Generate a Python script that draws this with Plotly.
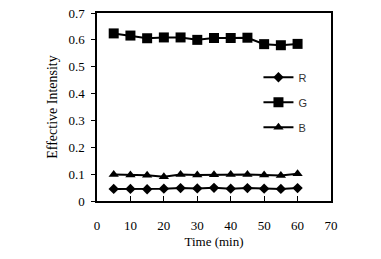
import plotly.graph_objects as go

time_min = [5, 10, 15, 20, 25, 30, 35, 40, 45, 50, 55, 60]
r_vals = [0.045, 0.045, 0.044, 0.046, 0.048, 0.047, 0.049, 0.046, 0.048, 0.046, 0.045, 0.048]
g_vals = [0.624, 0.616, 0.606, 0.609, 0.609, 0.600, 0.607, 0.607, 0.608, 0.584, 0.580, 0.585]
b_vals = [0.099, 0.097, 0.096, 0.090, 0.099, 0.097, 0.098, 0.099, 0.099, 0.097, 0.095, 0.101]
series_names = ["R", "G", "B"]
x_ticks = [0, 10, 20, 30, 40, 50, 60, 70]
y_ticks = [0, 0.1, 0.2, 0.3, 0.4, 0.5, 0.6, 0.7]
y_tick_text = ["0", "0.1", "0.2", "0.3", "0.4", "0.5", "0.6", "0.7"]

symbols = ["diamond", "square", "triangle-up"]
sizes = [8, 10, 9]

fig = go.Figure()
for i, (name, vals) in enumerate(zip(series_names, [r_vals, g_vals, b_vals])):
    fig.add_trace(go.Scatter(
        x=time_min, y=vals, name=name, mode="lines+markers",
        line=dict(color="black", width=2),
        marker=dict(symbol=symbols[i], size=sizes[i], color="black"),
        legendgroup=name,
    ))

serif = "Liberation Serif, Times New Roman, serif"
fig.update_layout(
    width=381, height=259,
    margin=dict(l=97, r=50, t=13, b=58, autoexpand=False),
    paper_bgcolor="white", plot_bgcolor="white",
    font=dict(family=serif, size=13, color="black"),
    showlegend=True,
    legend=dict(
        x=0.69, y=0.735, xanchor="left", yanchor="top",
        font=dict(family="Liberation Sans Narrow, Liberation Sans, Arial, sans-serif", size=11, color="#333"),
        bgcolor="rgba(0,0,0,0)", itemwidth=30, tracegroupgap=6,
    ),
    xaxis=dict(
        range=[0, 70], tickvals=x_ticks, ticks="inside", ticklen=5,
        tickcolor="black", showline=True, linecolor="black", linewidth=1.5,
        mirror=True, showgrid=False, zeroline=False, automargin=False,
        ticklabelstandoff=12,
        title=dict(text="Time (min)", font=dict(size=13), standoff=5),
    ),
    yaxis=dict(
        range=[0, 0.7], tickvals=y_ticks, ticktext=y_tick_text, ticks="outside", ticklen=4,
        tickcolor="black", showline=True, linecolor="black", linewidth=1.5,
        mirror=True, showgrid=False, zeroline=False, automargin=False,
        ticklabelstandoff=4,
        title=dict(text="Effective Intensity", font=dict(size=14), standoff=8),
    ),
)

fig.write_html("out.html", config={"displayModeBar": False},
               post_script="document.body.style.margin='0';")
